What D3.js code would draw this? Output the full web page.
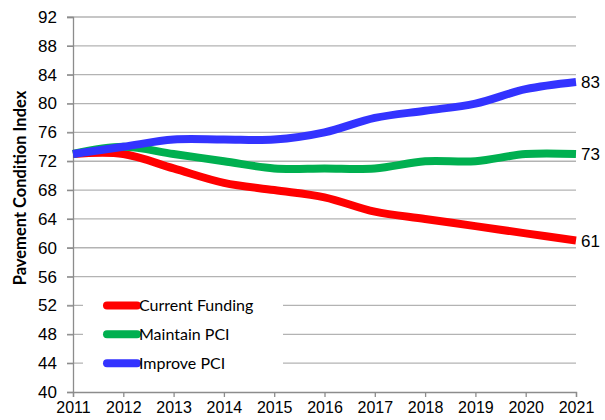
<!DOCTYPE html>
<html>
<head>
<meta charset="utf-8">
<script src="https://cdn.jsdelivr.net/npm/d3@7"></script>
<style>
  body { margin: 0; background: #fff; }
  svg { display: block; }
  .tick text { font-family: "Liberation Sans", Arial, sans-serif; }
</style>
</head>
<body>
<svg id="chart" width="605" height="420"></svg>
<script>
// data
const years = [2011, 2012, 2013, 2014, 2015, 2016, 2017, 2018, 2019, 2020, 2021];
const currentFunding = [73, 73, 71, 69, 68, 67, 65, 64, 63, 62, 61];
const maintainPCI = [73, 74, 73, 72, 71, 71, 71, 72, 72, 73, 73];
const improvePCI = [73, 74, 75, 75, 75, 76, 78, 79, 80, 82, 83];
const yTicks = [40, 44, 48, 52, 56, 60, 64, 68, 72, 76, 80, 84, 88, 92];

const series = [
  { name: 'Current Funding', values: currentFunding, color: '#ff0000' },
  { name: 'Maintain PCI', values: maintainPCI, color: '#00b050' },
  { name: 'Improve PCI', values: improvePCI, color: '#3333ff' }
];

const svg = d3.select('#chart');
const plot = { left: 73, right: 576, top: 17, bottom: 392 };

const x = d3.scaleLinear().domain([2011, 2021]).range([plot.left, plot.right]);
const y = d3.scaleLinear().domain([40, 92]).range([plot.bottom, plot.top]);

// gridlines
svg.append('g')
  .selectAll('line')
  .data(yTicks.filter(d => d > 40))
  .join('line')
  .attr('x1', plot.left - 6).attr('x2', plot.right)
  .attr('y1', d => y(d)).attr('y2', d => y(d))
  .attr('stroke', '#b3b3b3').attr('stroke-width', 1.3);

// y axis
const yAxis = svg.append('g')
  .attr('transform', `translate(${plot.left},0)`)
  .call(d3.axisLeft(y).tickValues(yTicks).tickSize(6).tickPadding(10));
yAxis.selectAll('text').attr('font-size', 17).attr('fill', '#000');

// x axis
const xAxis = svg.append('g')
  .attr('transform', `translate(0,${plot.bottom})`)
  .call(d3.axisBottom(x).tickValues(years).tickFormat(d3.format('d')).tickSize(5).tickPadding(5));
xAxis.selectAll('text').attr('font-size', 16).attr('fill', '#000');

svg.selectAll('.domain, .tick line').attr('stroke', '#8c8c8c').attr('stroke-width', 1.3);

// legend box (white, covers gridlines)
const legendY = [52, 48, 44];
svg.append('rect')
  .attr('x', 83).attr('y', y(53.8))
  .attr('width', 200).attr('height', y(42.2) - y(53.8))
  .attr('fill', '#fff');

// lines
const line = d3.line()
  .x((d, i) => x(years[i]))
  .y(d => y(d))
  .curve(d3.curveCatmullRom.alpha(0.5));

svg.append('g')
  .selectAll('path')
  .data(series)
  .join('path')
  .attr('d', d => line(d.values))
  .attr('fill', 'none')
  .attr('stroke', d => d.color)
  .attr('stroke-width', 8)
  .attr('stroke-linejoin', 'round');

// end labels
svg.append('g')
  .selectAll('text')
  .data(series)
  .join('text')
  .attr('x', plot.right + 5)
  .attr('y', d => y(d.values[d.values.length - 1]))
  .attr('dy', '0.35em')
  .attr('font-family', '"Liberation Sans", Arial, sans-serif')
  .attr('font-size', 17)
  .text(d => d.values[d.values.length - 1]);

// legend entries
const legend = svg.append('g')
  .selectAll('g')
  .data(series)
  .join('g')
  .attr('transform', (d, i) => `translate(107,${y(legendY[i])})`);

legend.append('line')
  .attr('x1', 0).attr('x2', 30)
  .attr('stroke', d => d.color)
  .attr('stroke-width', 8)
  .attr('stroke-linecap', 'round');

legend.append('text')
  .attr('x', 32)
  .attr('dy', '0.35em')
  .attr('font-family', 'Lato, "Open Sans", sans-serif')
  .attr('font-size', 16)
  .text(d => d.name);

// y axis title
svg.append('text')
  .attr('transform', 'translate(26,188) rotate(-90)')
  .attr('text-anchor', 'middle')
  .attr('font-family', 'Lato, "Open Sans", sans-serif')
  .attr('font-weight', 'bold')
  .attr('font-size', 16.5)
  .text('Pavement Condition Index');
</script>
</body>
</html>
